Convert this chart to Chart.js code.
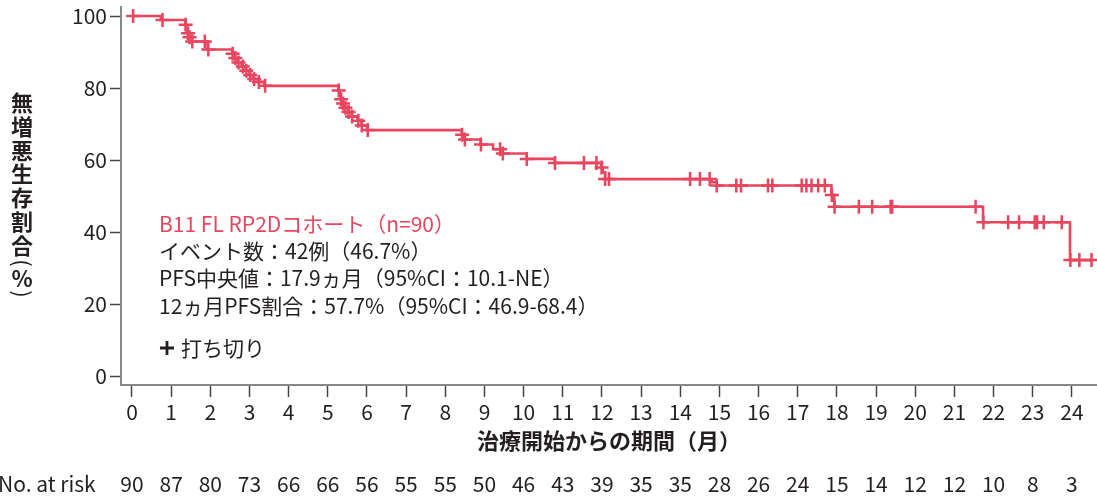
<!DOCTYPE html>
<html>
<head>
<meta charset="utf-8">
<script src="https://cdn.jsdelivr.net/npm/chart.js"></script>
<style>
  html, body { margin: 0; padding: 0; background: #fff; }
  #kmChart { display: block; }
</style>
</head>
<body>
<canvas id="kmChart" width="1097" height="497"></canvas>
<script>
// Kaplan-Meier steps: time (months) where the drop happens, survival (%) after it
var kmTime = [0, 0.74, 1.36, 1.38, 1.42, 1.46, 1.53, 1.93, 2.56, 2.62, 2.7, 2.8, 2.9, 3.0, 3.1, 3.22, 3.38,
  5.27, 5.3, 5.33, 5.38, 5.44, 5.52, 5.61, 5.76, 5.86, 6.0, 8.42, 8.47, 8.9, 9.22, 9.45, 10.08, 10.8,
  11.98, 12.02, 12.08, 14.8, 14.93, 17.86, 17.93, 21.73, 23.95, 24.55];
var kmSurv = [100, 98.9, 97.6, 96.4, 95.2, 94.1, 92.9, 90.7, 89.5, 88.3, 87.1, 86.0, 84.8, 83.6, 82.5, 81.7, 80.6,
  79.3, 78.1, 76.9, 75.7, 74.5, 73.3, 72.1, 70.9, 69.6, 68.3, 67.0, 65.7, 64.3, 63.0, 61.8, 60.3, 59.2,
  57.9, 56.6, 54.7, 53.8, 52.9, 50.3, 47.0, 42.7, 32.2, 32.2];

// censored patients (打ち切り)
var censorTime = [0.03, 0.78, 1.37, 1.43, 1.47, 1.54, 1.86, 1.95, 2.57, 2.64, 2.72, 2.83, 2.92, 3.02, 3.12, 3.24, 3.4,
  5.28, 5.34, 5.39, 5.45, 5.53, 5.62, 5.78, 5.87, 6.02, 8.43, 8.5, 8.91, 9.4, 9.47, 10.08, 10.8, 11.54, 11.86,
  11.99, 12.08, 12.18, 14.25, 14.5, 14.75, 14.93, 15.43, 15.55, 16.24, 16.35, 17.1, 17.22, 17.35, 17.52, 17.69,
  17.87, 17.94, 18.56, 18.9, 19.37, 19.41, 21.54, 21.74, 22.37, 22.65, 23.05, 23.11, 23.28, 23.74, 23.96, 24.19, 24.5];
var censorSurv = [100, 98.9, 97.6, 95.2, 94.1, 92.9, 92.9, 90.7, 89.5, 88.3, 87.1, 86.0, 84.8, 83.6, 82.5, 81.7, 80.6,
  79.3, 76.9, 75.7, 74.5, 73.3, 72.1, 70.9, 69.6, 68.3, 67.0, 65.7, 64.3, 63.0, 61.8, 60.3, 59.2, 59.2, 59.2,
  57.9, 54.7, 54.7, 54.7, 54.7, 54.7, 52.9, 52.9, 52.9, 52.9, 52.9, 52.9, 52.9, 52.9, 52.9, 52.9,
  50.3, 47.0, 47.0, 47.0, 47.0, 47.0, 47.0, 42.7, 42.7, 42.7, 42.7, 42.7, 42.7, 42.7, 32.2, 32.2, 32.2];

var monthTicks = [0, 1, 2, 3, 4, 5, 6, 7, 8, 9, 10, 11, 12, 13, 14, 15, 16, 17, 18, 19, 20, 21, 22, 23, 24];
var pctTicks = [0, 20, 40, 60, 80, 100];
var atRisk = [90, 87, 80, 73, 66, 66, 56, 55, 55, 50, 46, 43, 39, 35, 35, 28, 26, 24, 15, 14, 12, 12, 10, 8, 3];

var infoLines = [
  'イベント数：42例（46.7%）',
  'PFS中央値：17.9ヵ月（95%CI：10.1-NE）',
  '12ヵ月PFS割合：57.7%（95%CI：46.9-68.4）'
];

var PINK = '#e8455f';
var INK = '#231f20';
var FONT = '"Noto Sans CJK JP", "Noto Sans", sans-serif';

var kmPoints = kmTime.map(function (t, i) { return { x: t, y: kmSurv[i] }; });
var censorPoints = censorTime.map(function (t, i) { return { x: t, y: censorSurv[i] }; });

var textPlugin = {
  id: 'kmText',
  afterDraw: function (chart) {
    var ctx = chart.ctx;
    var xs = chart.scales.x;
    ctx.save();
    ctx.textBaseline = 'middle';

    // cohort box
    ctx.textAlign = 'left';
    ctx.font = '21px ' + FONT;
    ctx.fillStyle = PINK;
    ctx.fillText('B11 FL RP2Dコホート（n=90）', 159, 224);
    ctx.fillStyle = INK;
    infoLines.forEach(function (s, i) {
      ctx.fillText(s, 159, 251 + i * 27.5);
    });
    // legend: + 打ち切り
    ctx.strokeStyle = INK;
    ctx.lineWidth = 2.8;
    ctx.beginPath();
    ctx.moveTo(160, 348); ctx.lineTo(174, 348);
    ctx.moveTo(167, 341); ctx.lineTo(167, 355);
    ctx.stroke();
    ctx.fillText('打ち切り', 181, 348);

    // x title
    ctx.textAlign = 'center';
    ctx.font = 'bold 22px ' + FONT;
    ctx.fillText('治療開始からの期間（月）', (chart.chartArea.left + chart.chartArea.right) / 2, 441);

    // number at risk
    ctx.font = '21px ' + FONT;
    ctx.textAlign = 'left';
    ctx.fillText('No. at risk', -2, 484);
    ctx.textAlign = 'center';
    atRisk.forEach(function (n, i) {
      ctx.fillText(String(n), xs.getPixelForValue(monthTicks[i]), 484);
    });

    // vertical y title
    var chars = ['無', '増', '悪', '生', '存', '割', '合'];
    ctx.font = 'bold 22px ' + FONT;
    chars.forEach(function (c, i) {
      ctx.fillText(c, 22, 103 + i * 23.7);
    });
    ctx.save();
    ctx.translate(22, 263);
    ctx.rotate(Math.PI / 2);
    ctx.font = '22px ' + FONT;
    ctx.fillText('(', 0, 0);
    ctx.restore();
    ctx.font = 'bold 22px ' + FONT;
    ctx.fillText('%', 22, 279);
    ctx.save();
    ctx.translate(22, 294);
    ctx.rotate(Math.PI / 2);
    ctx.font = '22px ' + FONT;
    ctx.fillText(')', 0, 0);
    ctx.restore();

    ctx.restore();
  }
};

var kmChart = new Chart(document.getElementById('kmChart'), {
  type: 'line',
  data: {
    datasets: [{
        label: 'PFS',
        data: kmPoints,
        stepped: true,
        borderColor: PINK,
        borderWidth: 2.6,
        pointRadius: 0,
        fill: false
      }, {
        label: '打ち切り',
        data: censorPoints,
        showLine: false,
        pointStyle: 'cross',
        pointRadius: 7,
        pointBorderWidth: 2.5,
        pointBorderColor: PINK,
        pointBackgroundColor: PINK
      }]
  },
  options: {
    responsive: false,
    animation: false,
    layout: { autoPadding: false, padding: { top: 7, right: 0, left: 0, bottom: 0 } },
    plugins: {
      legend: { display: false },
      tooltip: { enabled: false }
    },
    scales: {
      x: {
        type: 'linear',
        min: -0.28,
        max: 24.64,
        afterBuildTicks: function (s) { s.ticks = monthTicks.map(function (v) { return { value: v }; }); },
        afterFit: function (s) { s.height = 112; s.paddingLeft = 0; s.paddingRight = 0; },
        ticks: {
          color: INK,
          font: { family: FONT, size: 21 },
          padding: 2,
          maxRotation: 0,
          autoSkip: false
        },
        grid: { drawOnChartArea: false, tickLength: 12, color: '#444', tickWidth: 1.5 },
        border: { color: '#888', width: 2 }
      },
      y: {
        min: -2.5,
        max: 102.5,
        afterBuildTicks: function (s) { s.ticks = pctTicks.map(function (v) { return { value: v }; }); },
        afterFit: function (s) { s.width = 121; s.paddingTop = 0; s.paddingBottom = 0; },
        ticks: {
          color: INK,
          font: { family: FONT, size: 21 },
          padding: 3
        },
        grid: { drawOnChartArea: false, tickLength: 11, color: '#444', tickWidth: 1.5 },
        border: { color: '#888', width: 2 }
      }
    }
  },
  plugins: [textPlugin]
});
</script>
</body>
</html>
